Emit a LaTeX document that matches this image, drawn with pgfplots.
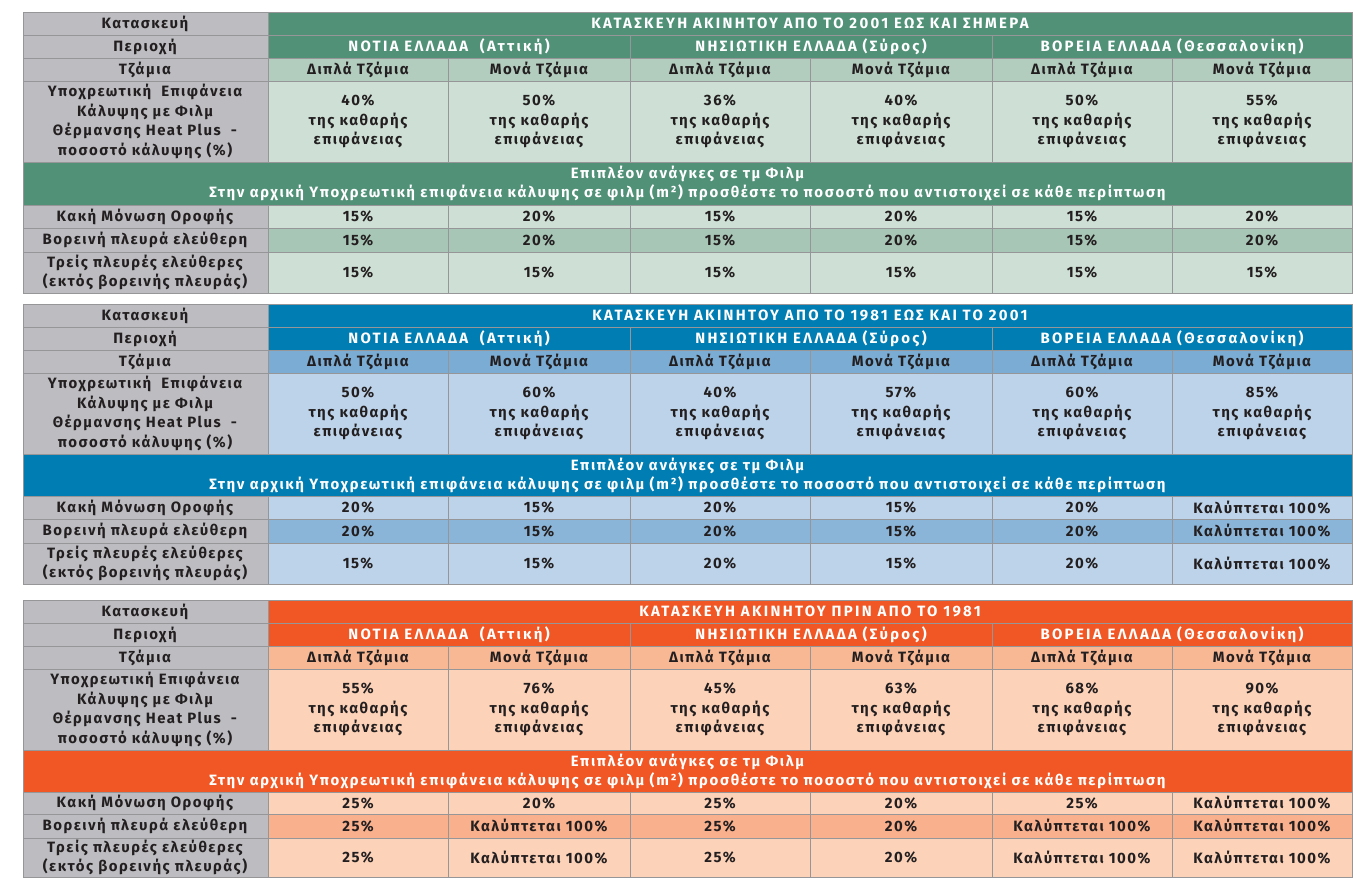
\documentclass[border=0pt]{standalone}
\usepackage{fontspec}
\setmainfont{Fira Sans}[LetterSpace=10]
\newfontfamily\widefont{Fira Sans}[LetterSpace=15.5]
\newfontfamily\bandfont{Fira Sans}[LetterSpace=11.5]
\usepackage{pgfplots}
\pgfplotsset{compat=1.18}
\definecolor{lgray}{RGB}{189,189,193}
\definecolor{gridc}{RGB}{150,150,152}
\definecolor{tdark}{RGB}{35,31,32}
\definecolor{gdark}{RGB}{80,145,120}
\definecolor{ghead}{RGB}{178,204,190}
\definecolor{glight}{RGB}{206,224,213}
\definecolor{galt}{RGB}{167,198,182}
\definecolor{bdark}{RGB}{0,125,178}
\definecolor{bhead}{RGB}{122,172,212}
\definecolor{blight}{RGB}{189,211,233}
\definecolor{balt}{RGB}{139,181,216}
\definecolor{odark}{RGB}{241,87,36}
\definecolor{ohead}{RGB}{249,184,148}
\definecolor{olight}{RGB}{252,210,184}
\definecolor{oalt}{RGB}{249,176,141}
\tikzset{tf/.style={font=\bfseries\fontsize{15}{19.5}\selectfont,text=tdark,align=center,inner sep=0pt},
         tw/.style={tf,text=white},
         twide/.style={tw,font=\widefont\bfseries\fontsize{15}{19.5}\selectfont},
         tband/.style={tw,font=\bandfont\bfseries\fontsize{15}{19}\selectfont}}
\newcommand\cell[5]{\filldraw[fill=#5,draw=gridc,line width=0.9pt] (axis cs:#1,#2) rectangle (axis cs:#3,#4);}
\newcommand\rowsix[3]{\cell{268}{#1}{448}{#2}{#3}\cell{448}{#1}{630}{#2}{#3}\cell{630}{#1}{810}{#2}{#3}\cell{810}{#1}{992}{#2}{#3}\cell{992}{#1}{1172}{#2}{#3}\cell{1172}{#1}{1352}{#2}{#3}}
\newcommand\regions[3]{\cell{268}{#1}{630}{#2}{#3}\cell{630}{#1}{992}{#2}{#3}\cell{992}{#1}{1352}{#2}{#3}}
\newcommand\labc[2]{\cell{23}{#1}{268}{#2}{lgray}}
\newcommand\T[3]{\node[tf] at (axis cs:#1,#2) {#3};}
\newcommand\W[3]{\node[twide] at (axis cs:#1,#2) {#3};}
\newcommand\B[3]{\node[tband] at (axis cs:#1,#2) {#3};}
\newcommand\six[7]{\T{358}{#1}{#2}\T{539}{#1}{#3}\T{720}{#1}{#4}\T{901}{#1}{#5}\T{1082}{#1}{#6}\T{1262}{#1}{#7}}
\newcommand\K{Καλύπτεται 100\%}
\newcommand\E[1]{#1\%\\της καθαρής\\επιφάνειας}
\newcommand\labels[7]{%
\T{145}{#1}{Κατασκευή}\T{145}{#2}{Περιοχή}\T{145}{#3}{Τζάμια}
\T{145}{#4}{#7}
\T{145}{#5}{Κακή Μόνωση Οροφής}\T{145}{#6}{Βορεινή πλευρά ελεύθερη}}
\newcommand\glass[1]{\six{#1}{Διπλά Τζάμια}{Μονά Τζάμια}{Διπλά Τζάμια}{Μονά Τζάμια}{Διπλά Τζάμια}{Μονά Τζάμια}}
\newcommand\band[2]{\B{687.5}{#1}{Επιπλέον ανάγκες σε τμ Φιλμ}\B{687.5}{#2}{Στην αρχική Υποχρεωτική επιφάνεια κάλυψης σε φιλμ (m²) προσθέστε το ποσοστό που αντιστοιχεί σε κάθε περίπτωση}}
\newcommand\regtxt[1]{\W{449}{#1}{ΝΟΤΙΑ ΕΛΛΑΔΑ\ \ (Αττική)}\W{811}{#1}{ΝΗΣΙΩΤΙΚΗ ΕΛΛΑΔΑ (Σύρος)}\W{1172}{#1}{ΒΟΡΕΙΑ ΕΛΛΑΔΑ (Θεσσαλονίκη)}}
\begin{document}
\begin{tikzpicture}
\begin{axis}[width=1367bp,height=883bp,scale only axis,xmin=0,xmax=1367,ymin=0,ymax=883,y dir=reverse,hide axis,clip=false]
\path (axis cs:0,0) rectangle (axis cs:1367,883);
% ---------- table 1 (green) ----------
\labc{12}{35}\labc{35}{58}\labc{58}{81}\labc{81}{162}\labc{205}{228}\labc{228}{252}\labc{252}{293}
\cell{268}{12}{1352}{35}{gdark}
\regions{35}{58}{gdark}
\rowsix{58}{81}{ghead}
\rowsix{81}{162}{glight}
\cell{23}{162}{1352}{205}{gdark}
\rowsix{205}{228}{glight}
\rowsix{228}{252}{galt}
\rowsix{252}{293}{glight}
\W{810}{23.5}{ΚΑΤΑΣΚΕΥΗ ΑΚΙΝΗΤΟΥ ΑΠΟ ΤΟ 2001 ΕΩΣ ΚΑΙ ΣΗΜΕΡΑ}
\regtxt{46.5}
\labels{23.5}{46.5}{69.5}{121.5}{216.5}{240}{Υποχρεωτική\ \ Επιφάνεια\\Κάλυψης με Φιλμ\\Θέρμανσης Heat Plus\ \ -\\ποσοστό κάλυψης (\%)}
\T{145}{272.5}{Τρείς πλευρές ελεύθερες\\(εκτός βορεινής πλευράς)}
\glass{69.5}
\six{121.5}{\E{40}}{\E{50}}{\E{36}}{\E{40}}{\E{50}}{\E{55}}
\band{174}{193}
\six{216.5}{15\%}{20\%}{15\%}{20\%}{15\%}{20\%}
\six{240}{15\%}{20\%}{15\%}{20\%}{15\%}{20\%}
\six{272.5}{15\%}{15\%}{15\%}{15\%}{15\%}{15\%}
% ---------- table 2 (blue) ----------
\labc{304}{327}\labc{327}{350}\labc{350}{373}\labc{373}{454}\labc{496}{519}\labc{519}{543}\labc{543}{584}
\cell{268}{304}{1352}{327}{bdark}
\regions{327}{350}{bdark}
\rowsix{350}{373}{bhead}
\rowsix{373}{454}{blight}
\cell{23}{454}{1352}{496}{bdark}
\rowsix{496}{519}{blight}
\rowsix{519}{543}{balt}
\rowsix{543}{584}{blight}
\W{810}{315.5}{ΚΑΤΑΣΚΕΥΗ ΑΚΙΝΗΤΟΥ ΑΠΟ ΤΟ 1981 ΕΩΣ ΚΑΙ ΤΟ 2001}
\regtxt{338.5}
\labels{315.5}{338.5}{361.5}{413.5}{507.5}{531}{Υποχρεωτική\ \ Επιφάνεια\\Κάλυψης με Φιλμ\\Θέρμανσης Heat Plus\ \ -\\ποσοστό κάλυψης (\%)}
\T{145}{563.5}{Τρείς πλευρές ελεύθερες\\(εκτός βορεινής πλευράς)}
\glass{361.5}
\six{413.5}{\E{50}}{\E{60}}{\E{40}}{\E{57}}{\E{60}}{\E{85}}
\band{465.5}{484.5}
\six{507.5}{20\%}{15\%}{20\%}{15\%}{20\%}{\K}
\six{531}{20\%}{15\%}{20\%}{15\%}{20\%}{\K}
\six{563.5}{15\%}{15\%}{20\%}{15\%}{20\%}{\K}
% ---------- table 3 (orange) ----------
\labc{600}{623}\labc{623}{646}\labc{646}{669}\labc{669}{750}\labc{792}{814}\labc{814}{838}\labc{838}{877}
\cell{268}{600}{1352}{623}{odark}
\regions{623}{646}{odark}
\rowsix{646}{669}{ohead}
\rowsix{669}{750}{olight}
\cell{23}{750}{1352}{792}{odark}
\rowsix{792}{814}{olight}
\rowsix{814}{838}{oalt}
\rowsix{838}{877}{olight}
\W{810}{611.5}{ΚΑΤΑΣΚΕΥΗ ΑΚΙΝΗΤΟΥ ΠΡΙΝ ΑΠΟ ΤΟ 1981}
\regtxt{634.5}
\labels{611.5}{634.5}{657.5}{709.5}{803}{826}{Υποχρεωτική Επιφάνεια\\Κάλυψης με Φιλμ\\Θέρμανσης Heat Plus\ \ -\\ποσοστό κάλυψης (\%)}
\T{145}{857.5}{Τρείς πλευρές ελεύθερες\\(εκτός βορεινής πλευράς)}
\glass{657.5}
\six{709.5}{\E{55}}{\E{76}}{\E{45}}{\E{63}}{\E{68}}{\E{90}}
\band{761.5}{780.5}
\six{803}{25\%}{20\%}{25\%}{20\%}{25\%}{\K}
\six{826}{25\%}{\K}{25\%}{20\%}{\K}{\K}
\six{857.5}{25\%}{\K}{25\%}{20\%}{\K}{\K}
\end{axis}
\end{tikzpicture}
\end{document}
